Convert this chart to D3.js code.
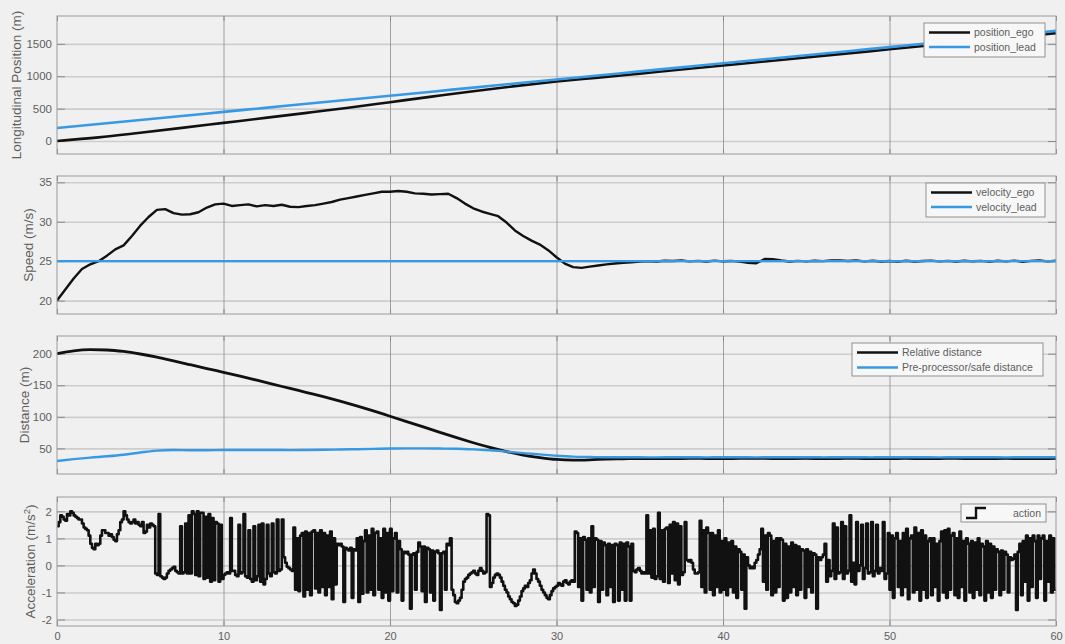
<!DOCTYPE html>
<html>
<head>
<meta charset="utf-8">
<script src="https://cdn.jsdelivr.net/npm/d3@7"></script>
<style>
  body { margin: 0; background: #f0f0f0; }
  svg { display: block; font-family: Arial, "Liberation Sans", Helvetica, sans-serif; }
</style>
</head>
<body>
<svg id="chart" width="1065" height="644"></svg>
<script>
// ---------- data ----------
// Longitudinal positions (m), sampled every 2.5 s
const positionTime = [0,2.5,5,7.5,10,12.5,15,17.5,20,22.5,25,27.5,30,32.5,35,37.5,40,42.5,45,47.5,50,52.5,55,57.5,60];
const positionEgo  = [0,56,128,203,280,357,435,515,600,685,769,848,918,979,1041,1103,1166,1228,1291,1353,1416,1478,1541,1603,1666];
const positionLead = [200,262,325,387,450,512,575,637,700,762,825,887,950,1012,1075,1137,1200,1262,1325,1387,1450,1512,1575,1637,1700];

// Speeds (m/s), ego sampled every 0.5 s
const speedStep = 0.5;
const velocityEgo = [
  20.0,21.4,22.8,24.0,24.6,25.0,25.7,26.5,27.0,28.2,
  29.5,30.6,31.5,31.6,31.1,30.9,30.95,31.2,31.8,32.2,
  32.3,32.0,32.1,32.2,31.95,32.1,32.0,32.15,31.9,31.85,
  32.0,32.1,32.3,32.5,32.8,33.0,33.2,33.4,33.6,33.8,
  33.8,33.9,33.8,33.6,33.55,33.45,33.5,33.55,33.0,32.3,
  31.7,31.3,31.0,30.7,29.9,28.9,28.2,27.6,27.1,26.4,
  25.5,24.7,24.25,24.15,24.3,24.45,24.6,24.7,24.8,24.85,
  24.95,25.0,24.96,25.06,25.02,25.08,24.97,25.04,24.95,25.07,
  24.98,25.03,24.94,24.8,24.74,25.28,25.24,25.08,24.95,25.04,
  24.97,25.06,25.0,25.08,25.1,25.03,25.09,24.97,25.06,24.95,
  25.02,24.94,25.05,24.96,25.02,25.07,24.97,25.04,24.95,25.06,
  24.98,25.04,24.94,25.05,24.97,25.07,24.93,25.04,25.08,24.97,
  25.05
];
const leadSpeedTime = [0,60];
const velocityLead = [25,25];

// Distances (m), sampled every 1 s
const distanceStep = 1;
const relativeDistance = [
  200,204.5,206.3,205.8,203.5,199.5,194.5,188.5,182.5,176.5,
  170.5,164.5,158,151.5,145,138.5,132,125,117.5,109.5,
  101,92.5,84,75.5,67,59,51.5,45,39.5,35.5,
  32.5,31.5,32,33,33.5,34,34,33.8,34.2,34,
  33.8,34.2,34.3,33.9,34,34.1,33.8,34,34.2,33.9,
  34,34.1,33.9,34,34.2,33.9,34,34.1,33.9,34,34.1
];
const safeDistance = [
  30,33,35.5,37.5,40,43.5,46.5,47.5,47,47,
  47.5,47.5,47.5,47.5,47.3,47.5,47.8,48.3,48.8,49.3,
  49.8,50,50,49.8,49.5,48.5,47,45,42.5,40.5,
  38.5,37,36.5,36,36,36,35.8,36,36.1,35.9,
  36,36,35.9,36,36.1,36,35.9,36,36,35.9,
  36,36.1,36,35.9,36,36,36.1,35.9,36,36,36
];

// Acceleration command (m/s^2), held every 0.1 s (one row = 2 s)
const actionStep = 0.1;
const action = [
  1.45,1.6,1.85,1.8,1.7,1.65,1.9,1.85,2.0,1.95,1.85,1.8,1.75,1.7,1.7,1.55,1.4,1.35,1.3,1.1,
  0.8,0.65,0.6,0.8,0.75,0.8,1.1,1.3,1.3,1.2,1.2,1.1,1.15,1.05,0.95,0.9,1.15,1.3,1.6,1.7,
  2.0,1.85,1.7,1.6,1.55,1.6,1.7,1.55,1.6,1.5,1.45,1.6,1.2,1.25,1.5,1.4,1.55,1.5,1.45,-0.3,
  -0.35,1.9,-0.4,-0.45,-0.5,-0.45,-0.3,-0.2,-0.15,-0.1,-0.05,-0.2,-0.25,-0.3,1.45,-0.3,-0.25,1.55,-0.3,1.85,
  -0.3,2.0,1.9,-0.35,2.0,-0.4,1.95,1.95,-0.5,1.8,-0.45,1.9,-0.6,1.75,-0.55,1.6,1.55,-0.6,1.5,-0.5,
  -0.35,-0.3,-0.25,-0.3,1.75,-0.2,-0.2,-0.35,-0.4,1.5,-0.3,-0.25,1.9,-0.4,-0.45,1.3,-0.5,-0.6,1.45,-0.55,
  -0.4,1.5,-0.6,1.55,-0.7,-0.5,1.5,-0.3,-0.4,1.55,-0.25,-0.3,1.7,-0.2,-0.15,1.7,0.3,0.1,-0.05,-0.1,
  -0.15,-0.2,1.4,-0.9,1.0,-0.95,1.1,1.2,-1.15,1.25,-0.9,1.2,-1.1,1.25,1.3,-0.85,1.2,-1.0,1.3,-0.8,
  1.2,-1.1,1.1,-0.8,1.25,-1.25,1.0,-0.7,0.8,0.75,0.8,0.7,-1.35,0.65,0.6,0.55,0.65,-1.2,0.6,0.55,
  1.0,-1.35,1.05,-1.05,0.9,1.3,-1.0,1.1,-0.9,1.35,-1.1,1.2,1.25,-0.9,1.0,-1.2,1.35,-1.0,1.2,-1.3,
  1.35,-0.95,1.0,1.2,-1.0,0.9,0.6,-1.3,0.5,0.45,0.5,0.4,-1.6,0.4,0.45,-0.9,0.5,0.85,0.7,-0.95,
  0.7,-1.35,0.65,0.6,-1.0,0.55,-1.3,0.5,0.55,0.45,-1.65,0.45,0.5,-0.9,0.8,0.75,1.0,-0.9,-1.1,-1.35,
  -1.4,-1.3,-1.2,-0.9,-0.6,-0.5,-0.45,-0.35,-0.3,-0.25,-0.2,-0.3,-0.35,-0.2,-0.1,-0.2,-0.3,-0.25,1.9,1.85,
  -0.8,-0.65,-0.45,-0.35,-0.3,-0.35,-0.45,-0.6,-0.75,-0.9,-1.0,-1.15,-1.25,-1.35,-1.4,-1.5,-1.45,-1.3,-1.15,-0.95,
  -0.85,-0.75,-0.8,-0.65,-0.55,-0.3,-0.15,-0.3,-0.5,-0.6,-0.75,-0.9,-1.0,-1.1,-1.2,-1.25,-1.1,-0.95,-0.85,-0.8,
  -0.75,-0.65,-0.7,-0.75,-0.6,-0.55,-0.65,-0.7,-0.6,-0.55,-0.6,1.25,1.2,-0.8,1.0,-1.3,1.05,0.95,-0.9,1.0,
  -1.0,1.45,-0.8,1.0,0.95,-1.35,0.9,-0.9,0.85,0.75,-1.1,0.8,-0.8,0.75,-1.35,0.8,0.75,-1.3,0.85,-0.9,
  0.8,-1.3,0.85,0.7,-1.3,0.8,-0.2,-0.25,-0.15,-0.1,-0.2,-0.3,-0.25,-0.3,1.85,-0.3,1.3,-0.45,1.35,-0.5,
  -0.4,1.95,-0.5,1.3,-0.6,1.35,1.4,-0.65,1.5,-0.3,1.6,-0.55,1.55,-0.7,1.45,-0.35,-0.25,1.6,0.2,0.15,
  0.2,0.1,-0.15,-0.3,-0.3,-0.25,1.65,-0.8,1.3,-1.0,1.4,1.2,-0.9,1.2,-1.1,1.1,-0.8,1.3,-1.0,0.9,
  -0.9,1.0,-1.1,0.85,-0.8,0.9,-1.0,0.7,-1.2,0.6,0.5,-0.9,0.4,-1.6,0.3,0.0,-0.1,-0.05,-0.1,0.1,
  0.2,0.4,0.6,1.35,-0.6,1.1,-0.9,1.2,1.1,-1.1,0.9,-1.0,1.0,-0.8,1.0,0.95,-1.3,0.8,-1.2,0.7,
  -1.0,0.85,-0.8,0.75,-1.1,0.7,-0.9,0.6,0.55,-1.2,0.6,-0.8,0.5,-1.0,0.45,0.4,-1.6,0.3,0.2,0.3,
  0.4,0.8,-0.6,0.2,-0.4,-0.2,1.55,-0.5,1.4,-0.3,-0.25,1.6,-0.5,1.45,-0.3,-0.2,1.85,-0.6,0.1,-0.7,
  1.6,-0.2,0.0,1.5,-0.5,-0.1,1.55,-0.3,-0.25,1.6,-0.4,-0.2,1.5,-0.3,-0.1,-0.2,1.6,-0.5,-0.3,1.2,
  -0.9,1.1,-1.2,1.0,1.2,-0.8,0.9,-1.1,1.2,-0.8,1.35,-1.25,1.0,1.1,-1.0,1.4,-0.9,1.2,-1.3,1.3,
  -0.9,1.1,-1.2,0.9,1.0,-1.1,1.0,-0.8,0.8,-1.3,0.9,1.25,-1.0,1.3,-1.2,1.35,-0.9,1.1,1.2,-1.1,
  1.0,-1.2,1.25,-0.8,0.9,-1.3,1.0,0.8,-1.0,0.9,-1.2,0.85,-0.9,1.0,-1.1,0.8,0.7,-1.3,0.9,-1.0,
  0.8,-1.2,0.7,-0.9,0.6,0.5,-1.1,0.55,-0.9,0.5,0.4,-1.0,0.3,0.2,0.25,0.4,-1.65,0.5,0.8,-1.1,
  0.9,-0.6,1.1,-1.3,1.0,-0.8,1.1,0.9,-1.2,1.1,-0.5,1.0,1.1,-1.3,0.9,-0.6,1.1,-1.0,1.0,-0.9,
  -0.9
];

const xTicks = [0,10,20,30,40,50,60];

// ---------- layout ----------
const svg = d3.select("#chart");
const left = 57, right = 1056;
const blue = "#3799e3";
const textGray = "#5e5e5e";
const fmt = d => String(d);

const x = d3.scaleLinear().domain([0, 60]).range([left, right]);

const panels = [
  { top: 16,  bottom: 154, domain: [-200, 1930], ticks: [0,500,1000,1500], labelX: 21 },
  { top: 176, bottom: 314, domain: [18.3, 35.8], ticks: [20,25,30,35],     labelX: 33 },
  { top: 336, bottom: 474, domain: [9.5, 228],   ticks: [50,100,150,200],  labelX: 29 },
  { top: 497, bottom: 626, domain: [-2.24, 2.53], ticks: [-2,-1,0,1,2],    labelX: 35 }
];

panels.forEach((p, i) => {
  p.y = d3.scaleLinear().domain(p.domain).range([p.bottom, p.top]);
  const g = svg.append("g");

  g.append("rect").attr("x", left).attr("y", p.top)
    .attr("width", right - left).attr("height", p.bottom - p.top)
    .attr("fill", "#f0f0f0");

  // horizontal grid
  g.append("g").attr("transform", `translate(${left},0)`)
    .call(d3.axisLeft(p.y).tickValues(p.ticks).tickSize(-(right - left)).tickFormat(""))
    .call(a => a.select(".domain").remove())
    .selectAll("line").attr("stroke", "#cdcdcd").attr("stroke-width", 1.6);

  // vertical grid
  g.append("g").attr("transform", `translate(0,${p.bottom})`)
    .call(d3.axisBottom(x).tickValues(xTicks.slice(1, -1)).tickSize(-(p.bottom - p.top)).tickFormat(""))
    .call(a => a.select(".domain").remove())
    .selectAll("line").attr("stroke", "#8c8c8c").attr("stroke-width", 0.8);

  // y ticks pointing inward, labels outside
  const yAxis = g.append("g").attr("transform", `translate(${left},0)`)
    .call(d3.axisLeft(p.y).tickValues(p.ticks).tickSize(-8).tickPadding(5).tickFormat(fmt))
    .call(a => a.select(".domain").remove());
  yAxis.selectAll("line").attr("stroke", "#8a8a8a");
  yAxis.selectAll("text").attr("fill", textGray).attr("font-size", 11.5)
    .attr("font-family", "Arial, 'Liberation Sans', sans-serif");

  g.append("g").attr("transform", `translate(${right},0)`)
    .call(d3.axisRight(p.y).tickValues(p.ticks).tickSize(-8).tickFormat(""))
    .call(a => a.select(".domain").remove())
    .selectAll("line").attr("stroke", "#8a8a8a");

  // x ticks (inward) on the bottom and top edges
  g.append("g").attr("transform", `translate(0,${p.bottom})`)
    .call(d3.axisBottom(x).tickValues(xTicks).tickSize(-5).tickFormat(""))
    .call(a => a.select(".domain").remove())
    .selectAll("line").attr("stroke", "#8a8a8a");
  g.append("g").attr("transform", `translate(0,${p.top})`)
    .call(d3.axisTop(x).tickValues(xTicks).tickSize(-5).tickFormat(""))
    .call(a => a.select(".domain").remove())
    .selectAll("line").attr("stroke", "#8a8a8a");

  svg.append("clipPath").attr("id", "clip" + i)
    .append("rect").attr("x", left).attr("y", p.top)
    .attr("width", right - left).attr("height", p.bottom - p.top);
  p.data = g.append("g").attr("clip-path", `url(#clip${i})`);
});

// x tick labels under the bottom panel
const last = panels[3];
svg.append("g").attr("transform", `translate(0,${last.bottom})`)
  .call(d3.axisBottom(x).tickValues(xTicks).tickSize(0).tickPadding(6).tickFormat(fmt))
  .call(a => a.select(".domain").remove())
  .selectAll("text").attr("fill", textGray).attr("font-size", 11)
  .attr("font-family", "Arial, 'Liberation Sans', sans-serif");

// y-axis titles
function yTitle(p, text, sup) {
  const t = svg.append("text")
    .attr("transform", `translate(${p.labelX},${(p.top + p.bottom) / 2}) rotate(-90)`)
    .attr("text-anchor", "middle").attr("fill", textGray).attr("font-size", 13.5)
    .text(text);
  if (sup) {
    t.append("tspan").attr("baseline-shift", "super").attr("font-size", 9.5).text(sup);
    t.append("tspan").text(")");
  }
}
yTitle(panels[0], "Longitudinal Position (m)");
yTitle(panels[1], "Speed (m/s)");
yTitle(panels[2], "Distance (m)");
yTitle(panels[3], "Acceleration (m/s", "2");

// axes boxes
panels.forEach(p => {
  svg.append("rect").attr("x", left).attr("y", p.top)
    .attr("width", right - left).attr("height", p.bottom - p.top)
    .attr("fill", "none").attr("stroke", "#9a9a9a").attr("stroke-width", 1);
});

// ---------- series ----------
function drawLine(p, xs, ys, color, width, curve) {
  const pts = xs.map((t, k) => [t, ys[k]]);
  p.data.append("path").datum(pts)
    .attr("fill", "none").attr("stroke", color).attr("stroke-width", width)
    .attr("stroke-linejoin", "round")
    .attr("d", d3.line().x(d => x(d[0])).y(d => p.y(d[1])).curve(curve || d3.curveLinear));
}
const idx = (arr, step) => arr.map((_, k) => k * step);

drawLine(panels[0], positionTime, positionEgo, "#111", 2.6, d3.curveMonotoneX);
drawLine(panels[0], positionTime, positionLead, blue, 2.6, d3.curveMonotoneX);

drawLine(panels[1], idx(velocityEgo, speedStep), velocityEgo, "#111", 2.4);
drawLine(panels[1], leadSpeedTime, velocityLead, blue, 2.4);

drawLine(panels[2], idx(relativeDistance, distanceStep), relativeDistance, "#111", 2.8, d3.curveMonotoneX);
drawLine(panels[2], idx(safeDistance, distanceStep), safeDistance, blue, 2.4, d3.curveMonotoneX);

drawLine(panels[3], idx(action, actionStep), action, "#111", 2.6, d3.curveStepAfter);

// ---------- legends ----------
function legend(box, entries, sampleLen, step) {
  const g = svg.append("g");
  g.append("rect").attr("x", box.x).attr("y", box.y).attr("width", box.w).attr("height", box.h)
    .attr("fill", "#f7f7f7").attr("stroke", "#8f8f8f").attr("stroke-width", 1);
  entries.forEach((e, k) => {
    const cy = box.y + box.pad + k * box.gap;
    if (step) {
      const sx = box.x + 5;
      g.append("path")
        .attr("d", `M${sx},${cy + 5}H${sx + 10}V${cy - 5}H${sx + 20}`)
        .attr("fill", "none").attr("stroke", e.color).attr("stroke-width", 2.4);
    } else {
      g.append("line").attr("x1", box.x + 5).attr("x2", box.x + 5 + sampleLen)
        .attr("y1", cy).attr("y2", cy)
        .attr("stroke", e.color).attr("stroke-width", 2.6);
    }
    g.append("text").attr("x", step ? box.x + box.w - 5 : box.x + 9 + sampleLen).attr("y", cy)
      .attr("dy", "0.35em").attr("text-anchor", step ? "end" : "start")
      .attr("fill", textGray).attr("font-size", 10.5).text(e.name);
  });
}
legend({ x: 924, y: 23, w: 121, h: 34, pad: 9.5, gap: 14.5 },
  [{ name: "position_ego", color: "#111" }, { name: "position_lead", color: blue }], 41);
legend({ x: 926, y: 183, w: 119, h: 34, pad: 9.5, gap: 14.5 },
  [{ name: "velocity_ego", color: "#111" }, { name: "velocity_lead", color: blue }], 41);
legend({ x: 852, y: 343, w: 191, h: 33, pad: 9.5, gap: 15 },
  [{ name: "Relative distance", color: "#111" }, { name: "Pre-processor/safe distance", color: blue }], 41);
legend({ x: 961, y: 504, w: 85, h: 18, pad: 9, gap: 0 },
  [{ name: "action", color: "#111" }], 20, true);
</script>
</body>
</html>
